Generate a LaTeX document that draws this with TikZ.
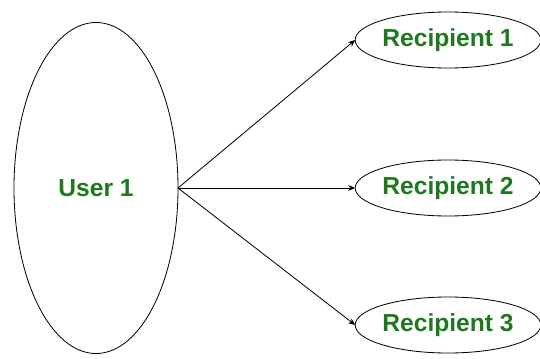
\documentclass[tikz,border=0pt]{standalone}
\usepackage{fontspec}
\setmainfont{Liberation Sans}
\usetikzlibrary{arrows.meta, positioning, shapes.geometric}
\definecolor{labelgreen}{RGB}{30,120,30}

\begin{document}
\begin{tikzpicture}[>={Stealth[length=6pt, width=5pt]}, x=0.03cm, y=0.03cm,
    every node/.style={font=\fontsize{21}{25}\selectfont\bfseries, text=labelgreen},
    sender/.style={ellipse, draw, line width=0.7pt, inner sep=0pt, outer sep=0pt,
      minimum width=4.92cm, minimum height=9.93cm},
    receiver/.style={ellipse, draw, line width=0.7pt, inner sep=0pt, outer sep=0pt,
      minimum width=5.4cm, minimum height=1.68cm}]
  \useasboundingbox (0,0) rectangle (540,358);
  \node[sender] (user) at (96,170) {User 1};
  \node[receiver] (rec1) at (448,318) {Recipient 1};
  \node[receiver] (rec2) at (448,170) {Recipient 2};
  \node[receiver] (rec3) at (448,33) {Recipient 3};
  \foreach \r in {rec1,rec2,rec3} {
    \draw[->, line width=0.7pt] (user.east) -- (\r.west);
  }
\end{tikzpicture}
\end{document}
